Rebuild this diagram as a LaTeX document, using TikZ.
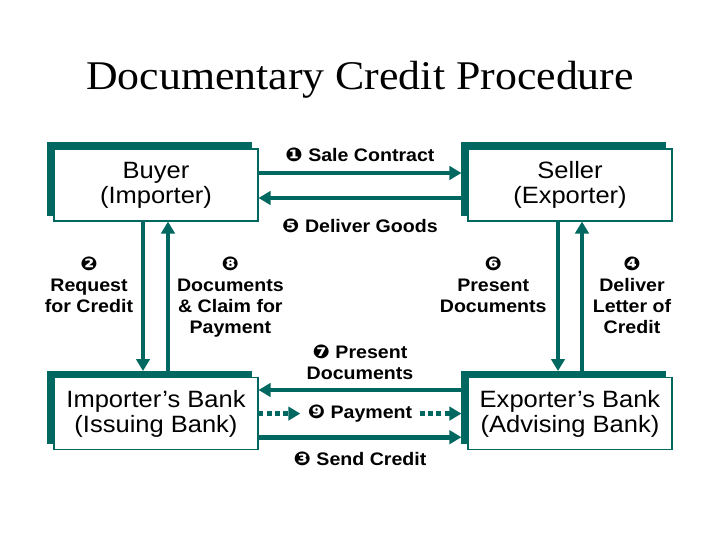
\documentclass[tikz,border=0pt]{standalone}
\usepackage{fontspec}
\setmainfont{Liberation Sans}[FakeStretch=1.08]
\newfontfamily\titlefont{Liberation Serif}[FakeStretch=1.075]
\newfontfamily\numfont{DejaVu Sans}[FakeStretch=1.08]
\usetikzlibrary{arrows.meta,shadows}
\definecolor{dkteal}{RGB}{0,104,96}
\newcommand{\stepno}[1]{{\numfont\fontsize{13.5}{14.9}\selectfont #1}}

\begin{document}
\begin{tikzpicture}[
	party/.style={
		rectangle,
		draw=dkteal,
		line width=0.8pt,
		fill=white,
		minimum width=5.1cm,
		minimum height=1.8cm,
		inner sep=0pt,
		align=center,
		font=\fontsize{16.8}{17.7}\selectfont,
		general shadow={fill=dkteal, draw=dkteal, shadow xshift=-0.16cm, shadow yshift=0.15cm},
	},
	flow/.style={-{Triangle[length=8.5pt,width=9.5pt]}, line width=3.5pt, dkteal},
	payflow/.style={flow, dash pattern=on 3.5pt off 2.4pt},
	lbl/.style={align=center, inner sep=0pt, text=black, font=\bfseries\fontsize{12.9}{14.9}\selectfont},
]

\useasboundingbox (0,0) rectangle (18,13.5);

\node[font=\titlefont\fontsize{29}{34}\selectfont, anchor=base] (title) at (9,11.25) {Documentary Credit Procedure};

\node[party] (buyer) at (3.9,8.875) {Buyer\\ (Importer)};
\node[party] (seller) at (14.25,8.875) {Seller\\ (Exporter)};
\node[party] (ibank) at (3.9,3.16) {Importer’s Bank\\ (Issuing Bank)};
\node[party] (ebank) at (14.25,3.16) {Exporter’s Bank\\ (Advising Bank)};

\draw[flow] ([yshift=0.3cm]buyer.east) -- node[lbl, above=0.22cm] (sale) {\stepno{❶} Sale Contract} ([xshift=-0.15cm,yshift=0.3cm]seller.west);
\draw[flow] ([xshift=-0.15cm,yshift=-0.325cm]seller.west) -- node[lbl, below=0.45cm] (goods) {\stepno{❺} Deliver Goods} ([yshift=-0.325cm]buyer.east);

\draw[flow] ([xshift=-0.325cm]buyer.south) -- ([xshift=-0.325cm,yshift=0.15cm]ibank.north);
\draw[flow] ([xshift=0.3cm,yshift=0.15cm]ibank.north) -- ([xshift=0.3cm]buyer.south);
\draw[flow] ([xshift=-0.3cm]seller.south) -- ([xshift=-0.3cm,yshift=0.15cm]ebank.north);
\draw[flow] ([xshift=0.3cm,yshift=0.15cm]ebank.north) -- ([xshift=0.3cm]seller.south);

\node[lbl, anchor=north] (credreq) at (2.225,7.075) {\stepno{❷}\\ Request\\ for Credit};
\node[lbl, anchor=north] (claim) at (5.76,7.075) {\stepno{❽}\\ Documents\\ \& Claim for\\ Payment};
\node[lbl, anchor=north] (presa) at (12.33,7.075) {\stepno{❻}\\ Present\\ Documents};
\node[lbl, anchor=north] (letter) at (15.8,7.075) {\stepno{❹}\\ Deliver\\ Letter of\\ Credit};

\draw[flow] ([xshift=-0.15cm,yshift=0.59cm]ebank.west) -- node[lbl, above=0.2cm] (presb) {\stepno{❼} Present\\ Documents} ([yshift=0.59cm]ibank.east);

\node[lbl, inner xsep=0.18cm] (pay) at (9,3.16) {\stepno{❾} Payment};
\draw[payflow] (ibank.east) -- (ibank.east -| pay.west);
\draw[payflow] (ebank.west -| pay.east) -- ([xshift=-0.15cm]ebank.west);

\draw[flow] ([yshift=-0.59cm]ibank.east) -- node[lbl, below=0.3cm] (send) {\stepno{❸} Send Credit} ([xshift=-0.15cm,yshift=-0.59cm]ebank.west);

\end{tikzpicture}
\end{document}
